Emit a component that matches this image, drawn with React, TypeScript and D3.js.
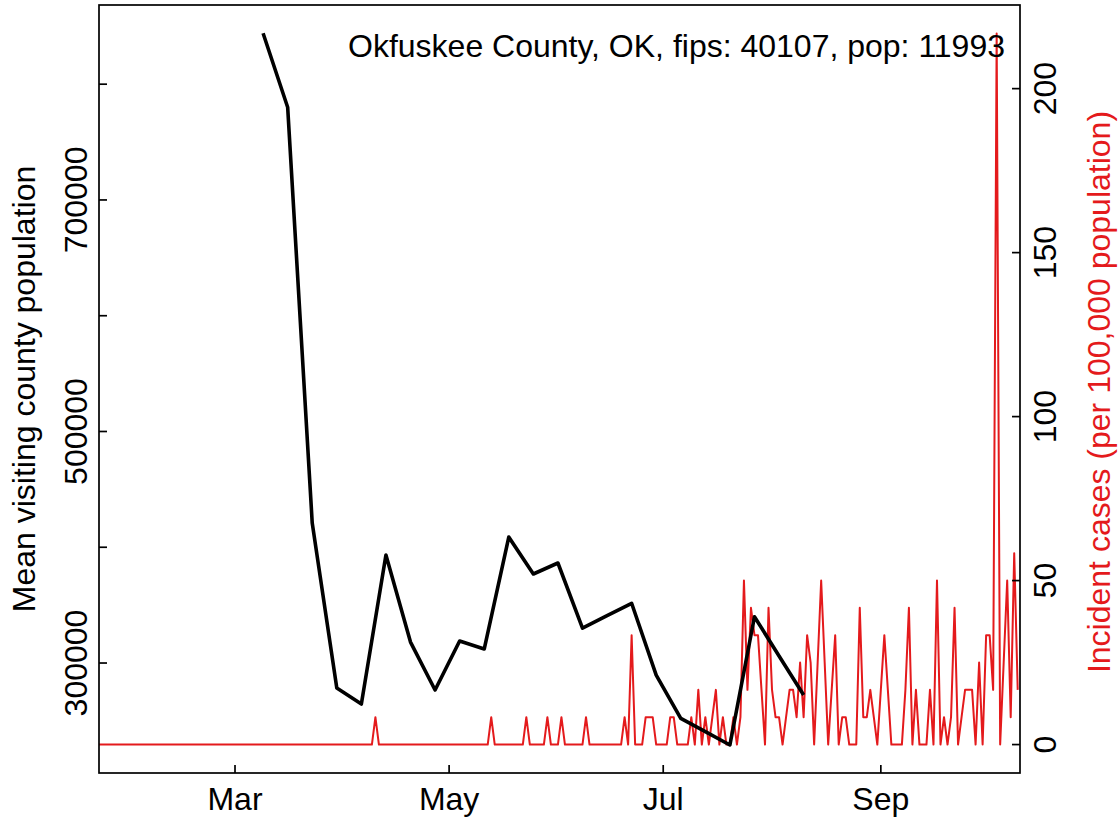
import React from "react";
import * as d3 from "d3";

// ---- data ----
const titleText = "Okfuskee County, OK, fips: 40107, pop: 11993";
const countyPopulation = 11993;

const visitDates = [
  "2020-03-09", "2020-03-16", "2020-03-23", "2020-03-30", "2020-04-06", "2020-04-13",
  "2020-04-20", "2020-04-27", "2020-05-04", "2020-05-11", "2020-05-18", "2020-05-25",
  "2020-06-01", "2020-06-08", "2020-06-15", "2020-06-22", "2020-06-29", "2020-07-06",
  "2020-07-13", "2020-07-20", "2020-07-27", "2020-08-03", "2020-08-10",
];
const visitValues = [
  844000, 780100, 420900, 278400, 264600, 393300, 318100, 276700, 319000, 312100,
  408800, 376900, 386400, 330200, 340900, 351600, 289600, 252200, 240800, 229200,
  340000, 306000, 272400,
];

// daily case counts starting 2020-01-22
const casesStart = "2020-01-22";
const dailyCases = [
  // Jan 22-31
  0, 0, 0, 0, 0, 0, 0, 0, 0, 0,
  // Feb
  0, 0, 0, 0, 0, 0, 0, 0, 0, 0, 0, 0, 0, 0, 0, 0, 0, 0, 0, 0, 0, 0, 0, 0, 0, 0, 0, 0, 0,
  // Mar
  0, 0, 0, 0, 0, 0, 0, 0, 0, 0, 0, 0, 0, 0, 0, 0, 0, 0, 0, 0, 0, 0, 0, 0, 0, 0, 0, 0, 0, 0, 0,
  // Apr
  0, 0, 0, 0, 0, 0, 0, 0, 0, 1, 0, 0, 0, 0, 0, 0, 0, 0, 0, 0, 0, 0, 0, 0, 0, 0, 0, 0, 0, 0,
  // May
  0, 0, 0, 0, 0, 0, 0, 0, 0, 0, 0, 0, 1, 0, 0, 0, 0, 0, 0, 0, 0, 0, 1, 0, 0, 0, 0, 0, 1, 0, 0,
  // Jun
  0, 1, 0, 0, 0, 0, 0, 0, 1, 0, 0, 0, 0, 0, 0, 0, 0, 0, 0, 1, 0, 4, 0, 0, 0, 1, 1, 1, 0, 0,
  // Jul
  0, 0, 1, 1, 0, 0, 0, 0, 1, 0, 2, 0, 1, 0, 1, 2, 0, 1, 0, 0, 1, 0, 1, 6, 2, 5, 4, 4, 2, 0, 5,
  // Aug
  2, 1, 1, 0, 1, 2, 2, 1, 3, 1, 4, 3, 0, 3, 6, 3, 0, 2, 4, 0, 1, 1, 0, 0, 0, 5, 1, 1, 2, 1, 0,
  // Sep
  2, 4, 2, 0, 0, 0, 0, 2, 5, 0, 2, 0, 0, 0, 2, 0, 6, 0, 1, 0, 1, 5, 0, 1, 2, 2, 2, 0, 3, 0,
  // Oct 1-10
  4, 4, 2, 26, 0, 3, 6, 1, 7, 2,
];

const xTickDates = ["2020-03-01", "2020-05-01", "2020-07-01", "2020-09-01"];
const xTickLabels = ["Mar", "May", "Jul", "Sep"];
const leftTicks = [300000, 400000, 500000, 600000, 700000, 800000];
const leftTickLabels = ["300000", "", "500000", "", "700000", ""];
const rightTicks = [0, 50, 100, 150, 200];
const rightTickLabels = ["0", "50", "100", "150", "200"];

const leftTitle = "Mean visiting county population";
const rightTitle = "Incident cases (per 100,000 population)";

// ---- layout ----
const W = 1119;
const H = 822;
const plotL = 99;
const plotR = 1020;
const plotT = 5;
const plotB = 773;
const FONT = "'Liberation Sans', Arial, Helvetica, sans-serif";
const FS = 32;
const RED = "#e41a1c";

export default function App() {
  const x = d3
    .scaleUtc()
    .domain([new Date(Date.UTC(2020, 0, 22, 6)), new Date(Date.UTC(2020, 9, 10, 15, 36))])
    .range([plotL, plotR]);
  const yL = d3.scaleLinear().domain([205000, 868400]).range([plotB, plotT]);
  const yR = d3.scaleLinear().domain([-8.67, 225.5]).range([plotB, plotT]);

  const parse = d3.utcParse("%Y-%m-%d");
  const visits = visitDates.map((d, i) => ({ date: parse(d) as Date, v: visitValues[i] }));
  const start = parse(casesStart) as Date;
  const cases = dailyCases.map((c, i) => ({
    date: d3.utcDay.offset(start, i),
    v: (c * 100000) / countyPopulation,
  }));

  const blackLine = d3
    .line<{ date: Date; v: number }>()
    .x((d) => x(d.date))
    .y((d) => yL(d.v));
  const redLine = d3
    .line<{ date: Date; v: number }>()
    .x((d) => x(d.date))
    .y((d) => yR(d.v));

  const tickLen = 8;
  const cy = (plotT + plotB) / 2;

  return (
    <svg
      width={W}
      height={H}
      style={{ position: "absolute", left: 0, top: 0, background: "#fff" }}
      fontFamily={FONT}
    >
      <defs>
        <clipPath id="plotclip">
          <rect x={plotL} y={plotT} width={plotR - plotL} height={plotB - plotT} />
        </clipPath>
      </defs>
      <rect x={0} y={0} width={W} height={H} fill="#fff" />

      <g clipPath="url(#plotclip)">
        <path d={redLine(cases) || ""} fill="none" stroke={RED} strokeWidth={2} strokeLinejoin="round" />
        <path d={blackLine(visits) || ""} fill="none" stroke="#000" strokeWidth={3.6} strokeLinejoin="round" />
      </g>

      {/* box */}
      <rect
        x={plotL}
        y={plotT}
        width={plotR - plotL}
        height={plotB - plotT}
        fill="none"
        stroke="#000"
        strokeWidth={1.7}
      />

      {/* x axis */}
      {xTickDates.map((d, i) => {
        const px = x(parse(d) as Date);
        return (
          <g key={d}>
            <line x1={px} x2={px} y1={plotB} y2={plotB - tickLen} stroke="#000" strokeWidth={1.7} />
            <text x={px} y={810} fontSize={FS} textAnchor="middle" fill="#000">
              {xTickLabels[i]}
            </text>
          </g>
        );
      })}

      {/* left axis */}
      {leftTicks.map((t, i) => {
        const py = yL(t);
        return (
          <g key={t}>
            <line x1={plotL} x2={plotL + tickLen} y1={py} y2={py} stroke="#000" strokeWidth={1.7} />
            {leftTickLabels[i] && (
              <text
                transform={`translate(87,${py}) rotate(-90)`}
                fontSize={FS}
                textAnchor="middle"
                fill="#000"
              >
                {leftTickLabels[i]}
              </text>
            )}
          </g>
        );
      })}
      <text transform={`translate(34.5,${cy}) rotate(-90)`} fontSize={FS} textAnchor="middle" fill="#000">
        {leftTitle}
      </text>

      {/* right axis */}
      {rightTicks.map((t, i) => {
        const py = yR(t);
        return (
          <g key={t}>
            <line x1={plotR} x2={plotR - tickLen} y1={py} y2={py} stroke="#000" strokeWidth={1.7} />
            <text
              transform={`translate(1055.5,${py}) rotate(-90)`}
              fontSize={FS}
              textAnchor="middle"
              fill="#000"
            >
              {rightTickLabels[i]}
            </text>
          </g>
        );
      })}
      <text transform={`translate(1110,${cy + 3}) rotate(-90)`} fontSize={FS} textAnchor="middle" fill={RED}>
        {rightTitle}
      </text>

      {/* title */}
      <text x={1005} y={57} fontSize={FS} textAnchor="end" fill="#000">
        {titleText}
      </text>
    </svg>
  );
}
